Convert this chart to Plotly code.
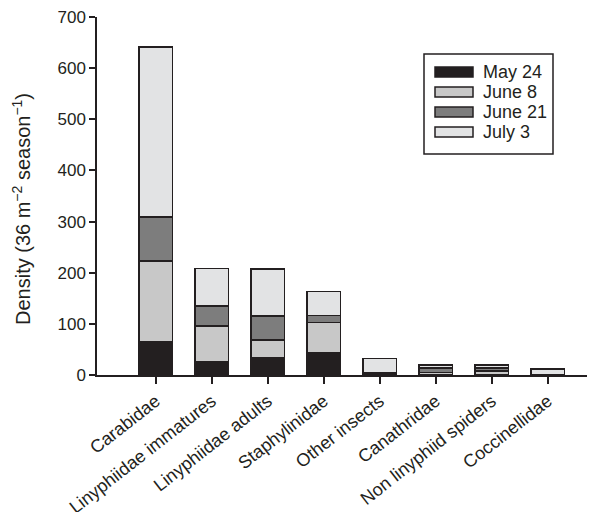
import plotly.graph_objects as go

categories = ["Carabidae", "Linyphiidae immatures", "Linyphiidae adults", "Staphylinidae",
              "Other insects", "Canathridae", "Non linyphiid spiders", "Coccinellidae"]
may24 = [66, 26, 33, 44, 1, 0, 1, 0]
june8 = [157, 70, 35, 59, 2, 5, 7, 0]
june21 = [86, 39, 47, 13, 1, 9, 6, 0]
july3 = [332, 73, 92, 47, 28, 6, 6, 12]
series_names = ["May 24", "June 8", "June 21", "July 3"]
colors = ["#231f20", "#c8c8c8", "#7d7d7d", "#e2e3e4"]
y_title = "Density (36 m<sup>−2</sup> season<sup>−1</sup>)"

W, H = 595, 512
ML, MR, MT, MB = 97, 8, 17, 137
PW, PH = W - ML - MR, H - MT - MB

def px(x):
    return (x - ML) / PW

def py(y):
    return (H - MB - y) / PH

fig = go.Figure()
for name, vals, col in zip(series_names, [may24, june8, june21, july3], colors):
    fig.add_trace(go.Bar(
        x=categories, y=vals, name=name, width=0.6, showlegend=False,
        marker=dict(color=col, line=dict(color="#231f20", width=1.5)),
    ))

font = "Liberation Sans, Arial, sans-serif"
ink = "#231f20"

# legend drawn as box + wide swatches + text
shapes = [dict(type="rect", xref="paper", yref="paper",
               x0=px(424), x1=px(553), y0=py(154), y1=py(54),
               line=dict(color=ink, width=1.5), fillcolor="white", layer="above")]
annotations = []
for i, (name, col) in enumerate(zip(series_names, colors)):
    cy = 72 + 20 * i
    shapes.append(dict(type="rect", xref="paper", yref="paper",
                       x0=px(435), x1=px(473), y0=py(cy + 5), y1=py(cy - 5),
                       line=dict(color=ink, width=1.5), fillcolor=col, layer="above"))
    annotations.append(dict(xref="paper", yref="paper", x=px(481), y=py(cy),
                            xanchor="left", yanchor="middle", showarrow=False,
                            text=name, font=dict(size=18, family=font, color=ink)))

annotations.append(dict(xref="paper", yref="paper", x=px(21), y=py(209),
                        xanchor="center", yanchor="middle", showarrow=False, textangle=-90,
                        text=y_title, font=dict(size=20, family=font, color=ink)))

fig.update_layout(
    barmode="stack",
    width=W, height=H,
    margin=dict(l=ML, r=MR, t=MT, b=MB, autoexpand=False),
    plot_bgcolor="white", paper_bgcolor="white",
    font=dict(family=font, size=16, color=ink),
    showlegend=False,
    shapes=shapes, annotations=annotations,
    xaxis=dict(
        type="category", range=[-1.05, 7.7], automargin=False,
        showline=True, linecolor=ink, linewidth=1.5,
        ticks="outside", ticklen=7, tickcolor=ink, tickwidth=1.5,
        tickangle=-38, tickfont=dict(size=18),
    ),
    yaxis=dict(
        range=[0, 700], dtick=100, showgrid=False, zeroline=False, automargin=False,
        showline=True, linecolor=ink, linewidth=1.5,
        ticks="outside", ticklen=6, tickcolor=ink, tickwidth=1.5,
        tickfont=dict(size=17),
    ),
)
fig.write_html("out.html", config={"displayModeBar": False},
               post_script="document.body.style.margin='0';")
